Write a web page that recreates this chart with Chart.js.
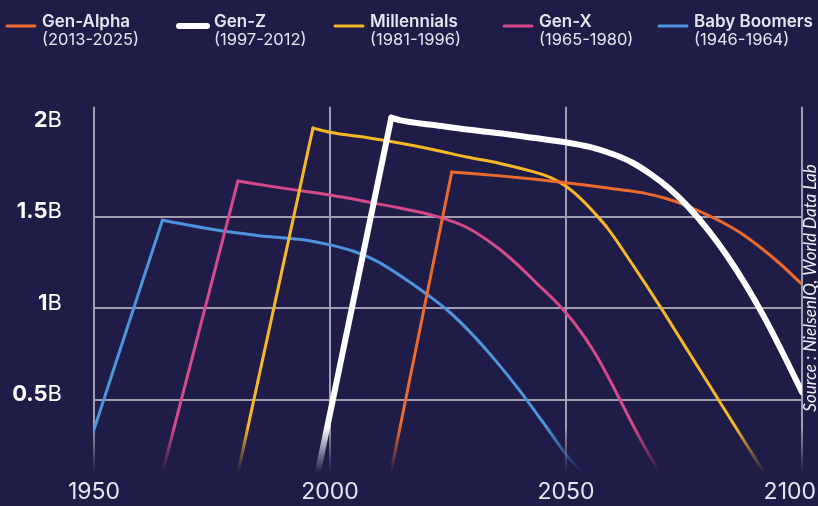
<!DOCTYPE html>
<html>
<head>
<meta charset="utf-8">
<title>Generations population</title>
<script src="https://cdn.jsdelivr.net/npm/chart.js@4"></script>
<style>
  html, body { margin: 0; padding: 0; background: #1f1c48; }
  #chart { display: block; }
</style>
</head>
<body>
<canvas id="chart" width="818" height="506"></canvas>
<script>
// Population of each generation over time, in billions

const seriesNames = ["Gen-Alpha", "Gen-Z", "Millennials", "Gen-X", "Baby Boomers"];
const birthRanges = ["(2013-2025)", "(1997-2012)", "(1981-1996)", "(1965-1980)", "(1946-1964)"];

// first point = start of the birth years, second point = peak
const alphaYears = [2012.5, 2025.8, 2030, 2036, 2043, 2050, 2056, 2062, 2067, 2071, 2075, 2079, 2083, 2087, 2091, 2095, 2100];
const alphaValues = [0.05, 1.743, 1.735, 1.722, 1.705, 1.685, 1.665, 1.645, 1.625, 1.60, 1.565, 1.52, 1.47, 1.41, 1.335, 1.25, 1.13];

const genZYears = [1997, 2013, 2015, 2022, 2029, 2036, 2043, 2050, 2055, 2060, 2064, 2068, 2072, 2076, 2080, 2084, 2088, 2092, 2096, 2100];
const genZValues = [0.05, 2.04, 2.025, 2.0, 1.975, 1.955, 1.93, 1.905, 1.88, 1.84, 1.795, 1.73, 1.65, 1.55, 1.43, 1.29, 1.13, 0.95, 0.75, 0.54];

const millYears = [1980, 1996.4, 2000, 2008, 2015, 2022, 2029, 2036, 2043, 2047, 2050, 2053, 2056, 2059, 2063, 2067, 2071, 2075, 2079, 2083, 2087, 2091, 2094];
const millValues = [0.04, 1.984, 1.96, 1.93, 1.90, 1.865, 1.825, 1.79, 1.745, 1.71, 1.665, 1.60, 1.52, 1.43, 1.28, 1.125, 0.965, 0.80, 0.635, 0.47, 0.305, 0.14, 0.02];

const genXYears = [1964, 1980.5, 1990, 2000, 2008, 2015, 2022, 2029, 2036, 2040, 2044, 2048, 2052, 2056, 2059, 2062, 2065, 2068, 2071];
const genXValues = [0.05, 1.694, 1.655, 1.617, 1.58, 1.545, 1.505, 1.44, 1.32, 1.23, 1.13, 1.03, 0.91, 0.76, 0.62, 0.47, 0.32, 0.18, 0.05];

const boomerYears = [1946, 1964.5, 1975, 1985, 1995, 2000, 2005, 2010, 2015, 2020, 2025, 2030, 2035, 2040, 2045, 2050, 2054];
const boomerValues = [0.02, 1.48, 1.43, 1.395, 1.37, 1.345, 1.31, 1.255, 1.175, 1.085, 0.985, 0.86, 0.715, 0.555, 0.38, 0.20, 0.08];

const xTickValues = [1950, 2000, 2050, 2100];
const yTickValues = [0.5, 1, 1.5, 2];
const yTickLabels = ["0.5B", "1B", "1.5B", "2B"];

const sourceText = "Source : NielsenIQ, World Data Lab";

// styling
const seriesColors = ["236,106,44", "255,255,255", "246,184,36", "214,74,140", "76,148,220"];
const seriesWidths = [3, 6, 3, 3, 3];
const seriesOrder = [1, 0, 2, 3, 4];
const legendX = [5, 177, 333, 502, 657];
const gridRgb = "160,158,176";
const textColor = "#e6e6f0";

const allYears = [alphaYears, genZYears, millYears, genXYears, boomerYears];
const allValues = [alphaValues, genZValues, millValues, genXValues, boomerValues];

// fades a colour out towards the bottom of the plot
function fadeGradient(chart, rgb) {
    const area = chart.chartArea;
    if (!area) return "rgb(" + rgb + ")";
    const g = chart.ctx.createLinearGradient(0, area.bottom, 0, area.bottom - 46);
    g.addColorStop(0, "rgba(" + rgb + ",0)");
    g.addColorStop(1, "rgba(" + rgb + ",1)");
    return g;
}

// each generation = straight rise up to the peak + smooth decline after it
const datasets = [];
seriesNames.forEach((name, i) => {
    const points = allYears[i].map((yr, j) => ({ x: yr, y: allValues[i][j] }));
    const common = {
        label: name,
        borderColor: (ctx) => fadeGradient(ctx.chart, seriesColors[i]),
        borderWidth: seriesWidths[i],
        borderCapStyle: "round",
        borderJoinStyle: "round",
        pointRadius: 0,
        fill: false,
        order: seriesOrder[i],
    };
    datasets.push({ ...common, data: points.slice(0, 2), tension: 0 });
    datasets.push({ ...common, data: points.slice(1), cubicInterpolationMode: "monotone" });
});

const decorPlugin = {
    id: "decor",
    afterDraw(chart) {
        const ctx = chart.ctx;
        const xScale = chart.scales.x;
        const yScale = chart.scales.y;
        ctx.save();

        // y labels: bold number, light "B"
        ctx.textBaseline = "middle";
        ctx.fillStyle = "#ffffff";
        yTickValues.forEach((v, i) => {
            const y = yScale.getPixelForValue(v) - 5;
            const label = yTickLabels[i];
            const num = label.slice(0, -1);
            const unit = label.slice(-1);
            ctx.font = "400 22px Inter";
            const unitW = ctx.measureText(unit).width;
            ctx.textAlign = "right";
            ctx.fillText(unit, 62, y);
            ctx.font = "700 22px Inter";
            ctx.fillText(num, 62 - unitW, y);
        });

        // x labels, the last one kept inside the canvas
        ctx.font = "400 23px Inter";
        ctx.fillStyle = textColor;
        ctx.textAlign = "center";
        xTickValues.forEach((v) => {
            const label = String(v);
            const w = ctx.measureText(label).width;
            let x = xScale.getPixelForValue(v);
            if (x + w / 2 > chart.width - 2) x = chart.width - 2 - w / 2;
            ctx.fillText(label, x, 492);
        });

        // legend
        seriesNames.forEach((name, i) => {
            const x = legendX[i];
            ctx.strokeStyle = "rgb(" + seriesColors[i] + ")";
            ctx.lineWidth = seriesWidths[i];
            ctx.lineCap = "round";
            ctx.beginPath();
            ctx.moveTo(x + 2, 26);
            ctx.lineTo(x + 30, 26);
            ctx.stroke();

            ctx.fillStyle = textColor;
            ctx.textAlign = "left";
            ctx.textBaseline = "alphabetic";
            ctx.font = "600 17px Inter";
            ctx.fillText(name, x + 37, 27);
            ctx.font = "400 16.5px Inter";
            ctx.fillText(birthRanges[i], x + 37, 45);
        });

        // source, rotated on the right edge
        ctx.translate(811, 288);
        ctx.rotate(-Math.PI / 2);
        ctx.textAlign = "center";
        ctx.textBaseline = "middle";
        ctx.font = "italic 17px Lato";
        ctx.fillStyle = "#f0f0f6";
        ctx.fillText(sourceText, 0, 0);

        ctx.restore();
    },
};

new Chart(document.querySelector("#chart"), {
    type: "line",
    data: { datasets },
    options: {
        responsive: false,
        devicePixelRatio: 1,
        animation: false,
        layout: {
            padding: { top: 106.7, right: 16, bottom: 0, left: 0 },
        },
        plugins: {
            legend: { display: false },
            tooltip: { enabled: false },
        },
        scales: {
            x: {
                type: "linear",
                min: 1950,
                max: 2100,
                afterBuildTicks: (scale) => {
                    scale.ticks = xTickValues.map((v) => ({ value: v }));
                },
                afterFit: (scale) => {
                    scale.height = 33.3;
                    scale.paddingLeft = 0;
                    scale.paddingRight = 0;
                },
                border: { display: false },
                grid: {
                    drawTicks: false,
                    lineWidth: 2,
                    color: (ctx) => fadeGradient(ctx.chart, gridRgb),
                },
                ticks: { display: false },
            },
            y: {
                type: "linear",
                min: 0.1,
                max: 2.1,
                afterBuildTicks: (scale) => {
                    scale.ticks = yTickValues.map((v) => ({ value: v }));
                },
                afterFit: (scale) => {
                    scale.width = 94;
                    scale.paddingTop = 0;
                    scale.paddingBottom = 0;
                },
                border: { display: false },
                grid: {
                    drawTicks: false,
                    lineWidth: 2,
                    color: (ctx) => (ctx.tick && ctx.tick.value === 2)
                        ? "rgba(0,0,0,0)"
                        : "rgb(" + gridRgb + ")",
                },
                ticks: { display: false },
            },
        },
    },
    plugins: [decorPlugin],
});
</script>
</body>
</html>
